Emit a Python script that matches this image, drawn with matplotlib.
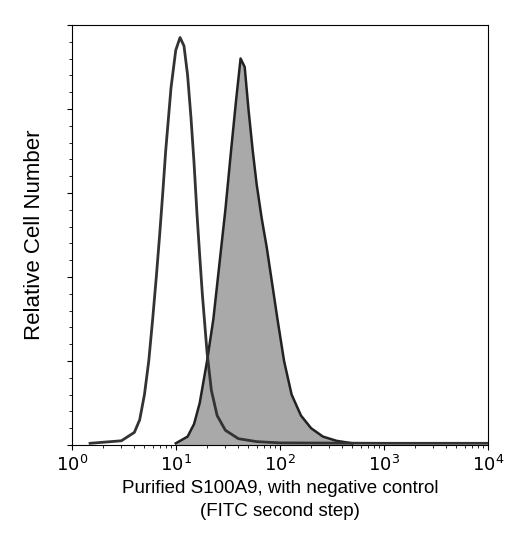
import matplotlib
matplotlib.use("Agg")
import matplotlib.pyplot as plt
import numpy as np

ctrl_x = [1.5, 3, 4, 4.5, 5, 5.5, 6, 6.5, 7, 7.5, 8, 9, 10, 11, 12, 13, 14, 15, 16, 17, 18, 20, 22, 25, 30, 40, 60, 100, 1000, 1e4]
ctrl_y = [0.004, 0.01, 0.03, 0.06, 0.12, 0.2, 0.3, 0.4, 0.5, 0.6, 0.7, 0.85, 0.94, 0.97, 0.95, 0.88, 0.78, 0.67, 0.55, 0.45, 0.36, 0.22, 0.13, 0.07, 0.035, 0.015, 0.008, 0.005, 0.004, 0.004]
s_x = [10, 13, 15, 17, 20, 23, 26, 30, 34, 38, 42, 46, 50, 55, 60, 67, 75, 85, 95, 110, 130, 160, 200, 260, 350, 500]
s_y = [0.004, 0.02, 0.05, 0.1, 0.2, 0.3, 0.42, 0.56, 0.7, 0.82, 0.92, 0.9, 0.8, 0.7, 0.62, 0.54, 0.47, 0.38, 0.3, 0.2, 0.12, 0.07, 0.04, 0.02, 0.01, 0.004]

fig = plt.figure(figsize=(5.2, 5.42), dpi=100)
ax = fig.add_axes([0.138, 0.179, 0.8, 0.775])
ax.fill_between(s_x, s_y, 0, color="#9a9a9a", alpha=0.85, lw=0)
ax.plot(s_x, s_y, color="#222222", lw=1.8)
ax.plot(ctrl_x, ctrl_y, color="#333333", lw=2)
ax.set_xscale("log")
ax.set_xlim(1, 1e4)
ax.set_ylim(0, 1)
ax.set_xticks([1, 10, 100, 1000, 10000])
ax.set_xticklabels(["10$^0$", "10$^1$", "10$^2$", "10$^3$", "10$^4$"], fontsize=13)
ax.set_yticks([0, 0.2, 0.4, 0.6, 0.8, 1.0])
ax.set_yticks(np.arange(0, 1, 0.04), minor=True)
ax.set_yticklabels([])
ax.set_ylabel("Relative Cell Number", fontsize=16, family="Liberation Sans", labelpad=12)
ax.set_xlabel("Purified S100A9, with negative control\n(FITC second step)", fontsize=13.5, family="Liberation Sans", linespacing=1.4)
fig.savefig("out.png", dpi=100)
